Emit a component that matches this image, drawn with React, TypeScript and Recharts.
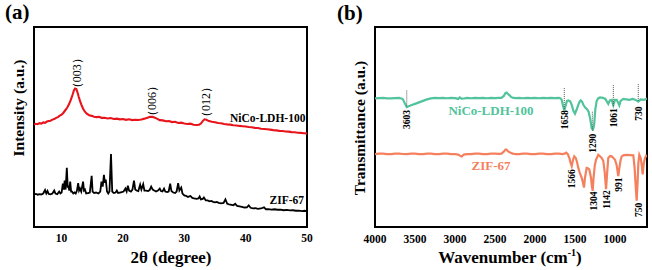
import { LineChart, Line, XAxis, YAxis, ReferenceArea, ReferenceLine, ReferenceDot } from 'recharts';

// XRD, 2θ (degree) vs intensity (a.u.)
const ldhXrd: [number, number][] = [
  [5.5, 104], [5.8, 104.8], [6.1, 104.3], [6.4, 105.4], [6.7, 105], [7.0, 106.2], [7.3, 105.8], [7.6, 107], [7.9, 107.6],
  [8.2, 107.9], [8.5, 109], [8.8, 109.6], [9.1, 110.8], [9.4, 111.5], [9.7, 113], [10.0, 114], [10.3, 116], [10.6, 118.5],
  [10.9, 121], [11.2, 124.5], [11.5, 129], [11.8, 134.5], [12.0, 138.5], [12.2, 140.5], [12.4, 140], [12.6, 136.5],
  [12.8, 132], [13.0, 128], [13.2, 124.5], [13.5, 120], [13.8, 117], [14.1, 115], [14.5, 113.5], [14.9, 112.8], [15.3, 112],
  [15.7, 111.5], [16.1, 111.8], [16.5, 110.8], [17, 110.9], [17.5, 110.2], [18, 110.6], [18.5, 109.7], [19, 110],
  [19.5, 109.3], [20, 109.6], [20.5, 108.8], [21, 109.3], [21.5, 108.5], [22, 108.9], [22.5, 108.6], [23, 109.2],
  [23.5, 110], [24, 111], [24.4, 111.8], [24.8, 111.9], [25.2, 111], [25.6, 109.8], [26, 108.5], [26.5, 108.2], [27, 107.3],
  [27.5, 107.6], [28, 106.5], [28.5, 106.8], [29, 105.6], [29.5, 105.9], [30, 105], [30.5, 104.6], [31, 104.9], [31.5, 103.8],
  [32, 103.5], [32.4, 103.8], [32.7, 105], [33.0, 107.5], [33.3, 109.3], [33.6, 108.8], [34, 107.5], [34.5, 106.8],
  [35, 106.3], [35.5, 105.5], [36, 105.3], [36.5, 104.6], [37, 104.2], [37.5, 103.9], [38, 103.3], [38.5, 103.1], [39, 102.6],
  [39.5, 102.3], [40, 102], [40.5, 101.5], [41, 101.3], [41.5, 100.6], [42, 100.5], [42.5, 99.7], [43, 99.5], [43.5, 99.2],
  [44, 98.8], [44.5, 98.3], [45, 98.1], [45.5, 97.6], [46, 97.5], [46.5, 97], [47, 96.8], [47.5, 96.3], [48, 96.1],
  [48.5, 95.7], [49, 95.5], [49.5, 95.2], [50, 95],
];

const zifXrd: [number, number][] = [
  [5.5, 33], [5.8, 33.6], [6.1, 32.8], [6.4, 33.4], [6.7, 33], [7.0, 34], [7.3, 37.5], [7.5, 34], [7.7, 36.5], [7.9, 33.5],
  [8.2, 33.2], [8.5, 34], [8.8, 37], [9.0, 34], [9.3, 33.4], [9.6, 36], [9.8, 34], [10.0, 35], [10.2, 44], [10.35, 38],
  [10.5, 47], [10.65, 38], [10.85, 60], [11.0, 40], [11.1, 42], [11.25, 37], [11.4, 46], [11.55, 36], [11.7, 36], [11.9, 34],
  [12.1, 35], [12.3, 34], [12.5, 37], [12.7, 44.5], [12.85, 37], [13.0, 39], [13.2, 36], [13.5, 46], [13.65, 37], [13.8, 38],
  [14.0, 34], [14.3, 34.5], [14.6, 35], [14.9, 52], [15.05, 36], [15.3, 34.5], [15.6, 35], [16.0, 34], [16.3, 36], [16.5, 46],
  [16.7, 41], [16.9, 53], [17.05, 45], [17.2, 48], [17.4, 36], [17.6, 34], [17.8, 36], [18.05, 74], [18.25, 36], [18.5, 34.5],
  [18.8, 35], [19.0, 37], [19.2, 34.5], [19.5, 35], [19.8, 35.5], [20.1, 36], [20.4, 39], [20.6, 36], [20.8, 42], [21.0, 37],
  [21.3, 36], [21.55, 38], [21.8, 47], [22.0, 38], [22.2, 37], [22.5, 36.5], [22.8, 43], [23.0, 38], [23.3, 43.5], [23.5, 37],
  [23.8, 37], [24.1, 36.5], [24.35, 37.5], [24.6, 41], [24.85, 38], [25.1, 37], [25.4, 36], [25.7, 37], [26.0, 39],
  [26.2, 36.5], [26.45, 36], [26.7, 39], [26.9, 36], [27.2, 35.5], [27.45, 36], [27.7, 44], [27.9, 36.5], [28.2, 35],
  [28.5, 34.5], [28.75, 36], [29.0, 44.5], [29.2, 37], [29.5, 40], [29.7, 34], [30.0, 32], [30.3, 31.5], [30.6, 30.5],
  [31.0, 31.5], [31.3, 29.5], [31.6, 29], [32.0, 28.5], [32.3, 29], [32.5, 31], [32.7, 28], [33.0, 28.5], [33.2, 30],
  [33.5, 27], [33.8, 27], [34.1, 26], [34.4, 26.5], [34.7, 25.5], [35.0, 25], [35.3, 25.5], [35.6, 24.5], [36.0, 24],
  [36.4, 24.5], [36.7, 28], [37.0, 23.5], [37.3, 23], [37.7, 22.5], [38.0, 22], [38.3, 23.5], [38.6, 21.5], [39.0, 21],
  [39.4, 20.5], [39.8, 19.8], [40.2, 20], [40.5, 22], [40.8, 19.5], [41.2, 19], [41.6, 19.2], [42.0, 18.5], [42.5, 18.8],
  [43.0, 20], [43.3, 18], [43.7, 18.2], [44.2, 17.7], [44.7, 18], [45.2, 17.5], [45.7, 17.7], [46.2, 17], [46.7, 17.4],
  [47.2, 16.8], [47.7, 17], [48.2, 16.5], [48.7, 16.7], [49.2, 16.2], [49.6, 16.5], [50, 16],
];

// FTIR, wavenumber (cm-1) vs transmittance (a.u.)
const ldhFtir: [number, number][] = [
  [4000, 130.5], [3950, 130.8], [3900, 131], [3850, 130.6], [3800, 130.5], [3750, 130.9], [3700, 131], [3670, 130.5],
  [3650, 129.5], [3630, 126], [3615, 123.5], [3603, 121.7], [3580, 122.5], [3540, 123.8], [3500, 125], [3450, 126.5],
  [3400, 128], [3350, 129.5], [3300, 130.5], [3250, 131], [3200, 130.8], [3150, 131], [3100, 130.7], [3050, 131],
  [3000, 130.8], [2960, 130], [2940, 131.5], [2920, 130.3], [2880, 130.6], [2850, 131], [2800, 130.7], [2750, 131],
  [2700, 130.8], [2650, 131], [2600, 130.7], [2550, 131], [2500, 130.9], [2450, 131], [2420, 131], [2390, 133], [2370, 136],
  [2355, 136.5], [2340, 135], [2320, 134], [2300, 132], [2270, 131], [2230, 130.8], [2200, 131], [2150, 130.7], [2100, 131],
  [2050, 130.8], [2000, 131], [1950, 130.7], [1900, 131], [1850, 130.8], [1800, 131], [1750, 130.9], [1700, 131],
  [1680, 130.5], [1666, 129], [1650, 123], [1634, 118.5], [1615, 124], [1600, 128], [1584, 128.5], [1560, 127.5],
  [1541, 124], [1520, 118], [1500, 115], [1480, 119], [1459, 124], [1440, 127.5], [1429, 128.5], [1410, 127], [1396, 124],
  [1370, 121], [1354, 120], [1330, 117], [1310, 110], [1291, 100], [1275, 99], [1262, 103], [1245, 120], [1229, 128],
  [1210, 130.5], [1188, 131.5], [1150, 131], [1120, 130], [1100, 127], [1084, 125], [1065, 128.5], [1041, 129],
  [1021, 123.5], [1000, 129], [979, 129], [960, 126], [946, 123.5], [930, 128], [896, 130], [860, 129.5], [820, 129],
  [780, 130], [740, 129], [709, 127.3], [680, 129.5], [640, 129], [600, 130.5],
];

const zifFtir: [number, number][] = [
  [4000, 74], [3950, 74.4], [3900, 74.5], [3850, 74], [3800, 74], [3750, 74.4], [3700, 74.5], [3650, 74.1], [3600, 74],
  [3550, 74.5], [3500, 74.5], [3450, 74], [3400, 74], [3350, 74.4], [3300, 74.5], [3250, 74], [3200, 74], [3150, 74.5],
  [3100, 74.5], [3050, 74], [3000, 74], [2960, 73.5], [2930, 72], [2915, 71.5], [2890, 73.5], [2850, 74], [2800, 74],
  [2750, 74.5], [2700, 74.5], [2650, 74], [2600, 74], [2550, 74.5], [2500, 74.5], [2450, 74.2], [2420, 74.5], [2390, 76.5],
  [2370, 78.5], [2355, 78.5], [2340, 77], [2310, 75.5], [2280, 74.5], [2240, 74], [2200, 74], [2150, 74.5], [2100, 74.5],
  [2050, 74], [2000, 74], [1950, 74.5], [1900, 74.5], [1850, 74], [1800, 74], [1750, 74.5], [1700, 74.5], [1660, 74],
  [1630, 74.5], [1610, 75.5], [1590, 74], [1570, 70], [1555, 65], [1541, 61.7], [1525, 68], [1509, 71.7], [1490, 70],
  [1475, 66], [1459, 60], [1440, 55], [1416, 50], [1400, 45], [1388, 40], [1375, 50], [1354, 60], [1335, 59.5],
  [1321, 58.3], [1300, 50], [1290, 42], [1279, 36.7], [1268, 50], [1252, 63], [1237, 68.3], [1209, 73.3], [1185, 71.5],
  [1166, 70], [1146, 67], [1128, 55], [1112, 38.3], [1098, 55], [1084, 70], [1060, 72], [1041, 71.7], [1020, 70],
  [1000, 68.3], [980, 63], [959, 51.7], [945, 60], [930, 68], [916, 71.7], [890, 73], [854, 73.3], [810, 73], [771, 72.7],
  [755, 60], [740, 40], [729, 26.7], [718, 45], [708, 65], [696, 73.3], [679, 70], [665, 62], [654, 53.3], [640, 65],
  [625, 70], [604, 73.3],
];

const thetaTicks = [10, 20, 30, 40, 50];
const waveTicks = [4000, 3500, 3000, 2500, 2000, 1500, 1000];

// hkl labels: [2θ, intensity, text]
const hklLabels: [number, number, string][] = [
  [12.4, 156, '（003）'],
  [24.7, 128, '（006）'],
  [33.5, 127, '（012）'],
];

// NiCo-LDH-100 marked bands: [x, lineTop, lineBottom, labelY, text]
const ldhBands: [number, number, number, number, string][] = [
  [3603, 138.5, 122, 109, '3603'],
  [1634, 141, 119, 109, '1658'],
  [1283, 117, 97, 85, '1290'],
  [1021, 144, 122, 111, '1061'],
  [709, 145, 128, 115, '730'],
];

// ZIF-67 marked bands: [x, labelY, text]
const zifBands: [number, number, string][] = [
  [1538, 49, '1566'],
  [1271, 26.5, '1304'],
  [1104, 28, '1142'],
  [950, 43, '991'],
  [709, 17.5, '750'],
];

const toPts = (arr: [number, number][]) => arr.map(([x, y]) => ({ x, y }));

const SERIF = 'Liberation Serif, Times New Roman, DejaVu Serif, serif';
const RED = '#e8141b';
const BLACK = '#000000';
const GREEN = '#52c39b';
const ORANGE = '#f5805e';

const tickStyle = { fontSize: 11.5, fontFamily: SERIF, fontWeight: 700, fill: '#000' };

const abs = (left: number, top: number, extra: React.CSSProperties = {}): React.CSSProperties => ({
  position: 'absolute',
  left,
  top,
  fontFamily: SERIF,
  fontWeight: 700,
  color: '#000',
  whiteSpace: 'nowrap',
  lineHeight: 1,
  ...extra,
});

const txt = (value: string, size: number, fill = '#000', bold = true, angle = 0) => ({
  value,
  position: 'center' as const,
  angle,
  fontSize: size,
  fontWeight: bold ? 700 : 400,
  fontFamily: SERIF,
  fill,
});

export default function App() {
  return (
    <div style={{ position: 'absolute', left: 0, top: 0, width: 652, height: 270, background: '#fff', overflow: 'hidden', fontFamily: SERIF }}>
      <div style={abs(0, 0)}>
        <LineChart width={326} height={270} margin={{ top: 27, right: 19, bottom: 0, left: 34 }} style={{ fontFamily: SERIF }}>
          <XAxis
            dataKey="x"
            type="number"
            domain={[5.5, 50]}
            ticks={thetaTicks}
            allowDataOverflow
            height={43}
            axisLine={false}
            tickLine={false}
            tickSize={0}
            tickMargin={7}
            tick={tickStyle}
          />
          <YAxis type="number" domain={[0, 203]} hide allowDataOverflow />
          <Line data={toPts(ldhXrd)} dataKey="y" type="linear" stroke={RED} strokeWidth={2.1} dot={false} isAnimationActive={false} />
          <Line data={toPts(zifXrd)} dataKey="y" type="linear" stroke={BLACK} strokeWidth={1.8} dot={false} isAnimationActive={false} />
          {hklLabels.map(([x, y, t]) => (
            <ReferenceDot key={t} x={x} y={y} r={0} fill="none" stroke="none" label={txt(t, 12, '#000', false, -90)} />
          ))}
          <ReferenceDot x={43.6} y={111} r={0} fill="none" stroke="none" label={txt('NiCo-LDH-100', 11.5)} />
          <ReferenceDot x={46.7} y={27} r={0} fill="none" stroke="none" label={txt('ZIF-67', 11.5)} />
          <ReferenceArea x1={5.5} x2={50} y1={0} y2={203} fill="none" stroke="#000" strokeWidth={2} ifOverflow="visible" />
        </LineChart>
      </div>

      <div style={abs(326, 0)}>
        <LineChart width={326} height={270} margin={{ top: 27, right: 5, bottom: 0, left: 49 }} style={{ fontFamily: SERIF }}>
          <XAxis
            dataKey="x"
            type="number"
            domain={[600, 4000]}
            reversed
            ticks={waveTicks}
            allowDataOverflow
            height={43}
            axisLine={false}
            tickLine={false}
            tickSize={0}
            tickMargin={8}
            tick={tickStyle}
          />
          <YAxis type="number" domain={[0, 203]} hide allowDataOverflow />
          <Line data={toPts(ldhFtir)} dataKey="y" type="linear" stroke={GREEN} strokeWidth={2.2} dot={false} isAnimationActive={false} />
          <Line data={toPts(zifFtir)} dataKey="y" type="linear" stroke={ORANGE} strokeWidth={2.2} dot={false} isAnimationActive={false} />
          {ldhBands.map(([x, y1, y2, , t]) => (
            <ReferenceLine key={'l' + t} segment={[{ x, y: y1 }, { x, y: y2 }]} stroke="#555" strokeWidth={1} strokeDasharray="1 1" />
          ))}
          {ldhBands.map(([x, , , ly, t]) => (
            <ReferenceDot key={'t' + t} x={x} y={ly} r={0} fill="none" stroke="none" label={txt(t, 9.5, '#000', true, -90)} />
          ))}
          {zifBands.map(([x, ly, t]) => (
            <ReferenceDot key={'z' + t} x={x} y={ly} r={0} fill="none" stroke="none" label={txt(t, 9.5, '#000', true, -90)} />
          ))}
          <ReferenceDot x={2550} y={118.3} r={0} fill="none" stroke="none" label={txt('NiCo-LDH-100', 13, GREEN)} />
          <ReferenceDot x={2550} y={62.5} r={0} fill="none" stroke="none" label={txt('ZIF-67', 13, ORANGE)} />
          <ReferenceArea x1={600} x2={4000} y1={0} y2={203} fill="none" stroke="#000" strokeWidth={2} ifOverflow="visible" />
        </LineChart>
      </div>

      <div style={abs(5, 2, { fontSize: 21 })}>(a)</div>
      <div style={abs(337, 3, { fontSize: 21 })}>(b)</div>

      <div style={abs(19, 108, { fontSize: 15.5, transform: 'translate(-50%, -50%) rotate(-90deg)' })}>Intensity (a.u.)</div>
      <div style={abs(360, 128, { fontSize: 15.5, transform: 'translate(-50%, -50%) rotate(-90deg)' })}>Transmittance (a.u.)</div>

      <div style={abs(171, 257, { fontSize: 17, transform: 'translate(-50%, -50%)' })}>2θ (degree)</div>
      <div style={abs(510, 257, { fontSize: 17, transform: 'translate(-50%, -50%)' })}>
        Wavenumber (cm<sup style={{ fontSize: 10, verticalAlign: 'super', lineHeight: 0 }}>-1</sup>)
      </div>
    </div>
  );
}
